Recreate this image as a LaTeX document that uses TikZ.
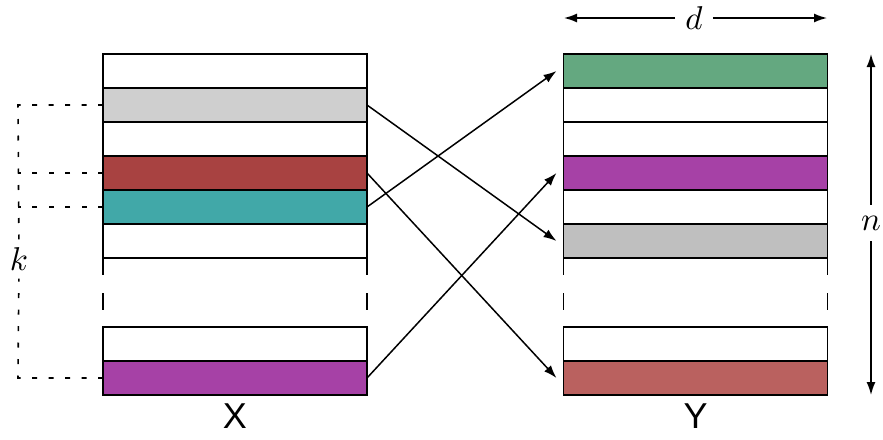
\documentclass[tikz,border=0pt]{standalone}
\usepackage{fontspec}
\newfontfamily\labfont{Liberation Sans}
\usetikzlibrary{arrows.meta}
\definecolor{xgray}{HTML}{CFCFCF}
\definecolor{xred}{HTML}{A84241}
\definecolor{xteal}{HTML}{41A8A8}
\definecolor{xpurple}{HTML}{A641A6}
\definecolor{ygreen}{HTML}{64A880}
\definecolor{ygray}{HTML}{BFBFBF}
\definecolor{yred}{HTML}{BA615F}
\newcommand{\biglab}[1]{\scalebox{3.3}{$#1$}}
\begin{document}
\begin{tikzpicture}[x=1pt,y=-1pt,
  row/.style={draw=black, line width=1.5pt, minimum width=264pt, minimum height=34pt, inner sep=0pt, outer sep=0pt},
  sides/.style={line width=1.5pt, dash pattern=on 17pt off 18pt},
  map/.style={line width=1.5pt, -{Latex[length=13pt,width=9pt]}},
  guide/.style={line width=1.6pt, dash pattern=on 5pt off 11.5pt},
  dim/.style={line width=1.5pt, -{Latex[length=13pt,width=9pt]}},
  caption/.style={font=\labfont\fontsize{36}{40}\selectfont, inner sep=0pt}]
\useasboundingbox (0,0) rectangle (883,439);
% X matrix
\node[row, fill=white]   (x1) at (235,71)  {};
\node[row, fill=xgray]   (x2) at (235,105) {};
\node[row, fill=white]   (x3) at (235,139) {};
\node[row, fill=xred]    (x4) at (235,173) {};
\node[row, fill=xteal]   (x5) at (235,207) {};
\node[row, fill=white]   (x6) at (235,241) {};
\node[row, fill=white]   (x7) at (235,344) {};
\node[row, fill=xpurple] (x8) at (235,378) {};
\draw[sides] (x6.south west) -- (x7.north west);
\draw[sides] (x6.south east) -- (x7.north east);
% Y matrix
\node[row, fill=ygreen]  (y1) at (695.5,71)  {};
\node[row, fill=white]   (y2) at (695.5,105) {};
\node[row, fill=white]   (y3) at (695.5,139) {};
\node[row, fill=xpurple] (y4) at (695.5,173) {};
\node[row, fill=white]   (y5) at (695.5,207) {};
\node[row, fill=ygray]   (y6) at (695.5,241) {};
\node[row, fill=white]   (y7) at (695.5,344) {};
\node[row, fill=yred]    (y8) at (695.5,378) {};
\draw[sides] (y6.south west) -- (y7.north west);
\draw[sides] (y6.south east) -- (y7.north east);
% captions
\node[caption] (xl) at (235,416) {X};
\node[caption] (yl) at (695.5,416) {Y};
% mapping arrows
\draw[map] (x2.east) -- ([xshift=-7pt]y6.west);
\draw[map] (x4.east) -- ([xshift=-7pt]y8.west);
\draw[map] (x5.east) -- ([xshift=-7pt]y1.west);
\draw[map] (x8.east) -- ([xshift=-7pt]y4.west);
% k guide
\node[inner sep=8pt] (k) at (19,259) {\biglab{k}};
\coordinate (c1) at (18,105);
\coordinate (c2) at (18,173);
\coordinate (c3) at (18,207);
\coordinate (c4) at (18,378);
\draw[guide] (x2.west) -- (c1) -- (k);
\draw[guide] (x4.west) -- (c2);
\draw[guide] (x5.west) -- (c3);
\draw[guide] (x8.west) -- (c4) -- (k);
% d dimension
\node[inner sep=10pt] (d) at (694,18) {\biglab{d}};
\coordinate (dl) at (564,18);
\coordinate (dr) at (827,18);
\draw[dim] (d) -- (dl);
\draw[dim] (d) -- (dr);
% n dimension
\node[inner sep=11pt] (n) at (871,223) {\biglab{n}};
\coordinate (nt) at (871,54);
\coordinate (nb) at (871,395);
\draw[dim] (n) -- (nt);
\draw[dim] (n) -- (nb);
\end{tikzpicture}
\end{document}
